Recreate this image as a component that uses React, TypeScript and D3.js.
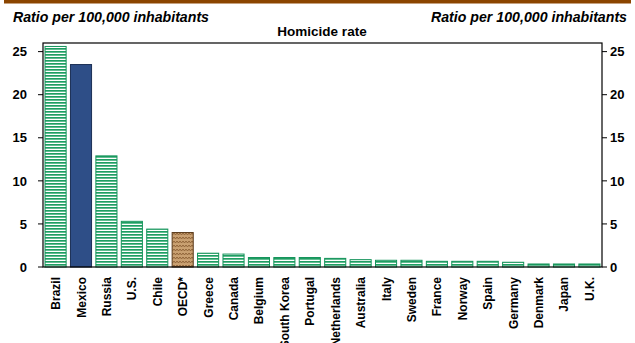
import React from "react";
import * as d3 from "d3";

const categories = ["Brazil","Mexico","Russia","U.S.","Chile","OECD*","Greece","Canada","Belgium","South Korea","Portugal","Netherlands","Australia","Italy","Sweden","France","Norway","Spain","Germany","Denmark","Japan","U.K."];
const values = [25.6,23.5,12.9,5.3,4.4,4.0,1.6,1.5,1.1,1.1,1.1,1.0,0.85,0.78,0.78,0.66,0.66,0.66,0.55,0.35,0.35,0.35];
const ticks = [0,5,10,15,20,25];
const title = "Homicide rate";
const unitLabel = "Ratio per 100,000 inhabitants";

const W = 635, H = 343;
const L = 43, R = 602, T = 43, B = 267;

export default function App() {
  const x = d3.scaleBand<string>().domain(categories).range([L, R]).paddingInner(0.17).paddingOuter(0.08);
  const y = d3.scaleLinear().domain([0, 26]).range([B, T]);
  const font = "'Liberation Sans', Arial, sans-serif";
  const fillFor = (c: string) => c === "Mexico" ? "#2E4E87" : c === "OECD*" ? "url(#brownPat)" : "url(#greenPat)";
  const strokeFor = (c: string) => c === "Mexico" ? "#1B2F55" : c === "OECD*" ? "#5A3A1A" : "#14935A";
  return (
    <svg width={W} height={H} style={{ position: "absolute", left: 0, top: 0 }} fontFamily={font}>
      <defs>
        <pattern id="greenPat" width={4} height={3} patternUnits="userSpaceOnUse">
          <rect width={4} height={3} fill="#ffffff" />
          <rect y={0} width={4} height={1.7} fill="#1E9E62" />
        </pattern>
        <pattern id="brownPat" width={6} height={4} patternUnits="userSpaceOnUse">
          <rect width={6} height={4} fill="#C9A071" />
          <path d="M0,1 L1.5,3 L3,1 L4.5,3 L6,1" fill="none" stroke="#8A5D33" strokeWidth={0.9} />
        </pattern>
      </defs>
      <rect x={0} y={0} width={W} height={H} fill="#fff" />
      <rect x={4} y={0} width={627} height={3.5} fill="#8B4500" />
      <text x={13} y={21.5} fontSize={14} fontWeight="bold" fontStyle="italic" textLength={196} lengthAdjust="spacingAndGlyphs">{unitLabel}</text>
      <text x={431} y={21.5} fontSize={14} fontWeight="bold" fontStyle="italic" textLength={196} lengthAdjust="spacingAndGlyphs">{unitLabel}</text>
      <text x={322} y={36} fontSize={13.5} fontWeight="bold" textAnchor="middle">{title}</text>
      {categories.map((c, i) => (
        <rect key={c} x={x(c)!} y={y(values[i])} width={x.bandwidth()} height={B - y(values[i])}
          fill={fillFor(c)} stroke={strokeFor(c)} strokeWidth={1} />
      ))}
      <rect x={L} y={T} width={R - L} height={B - T} fill="none" stroke="#000" strokeWidth={1.2} />
      {ticks.map(t => (
        <g key={t}>
          <line x1={L - 5} x2={L} y1={y(t)} y2={y(t)} stroke="#000" strokeWidth={1} />
          <line x1={R} x2={R + 5} y1={y(t)} y2={y(t)} stroke="#000" strokeWidth={1} />
          <text x={27} y={y(t)} dy="0.36em" fontSize={13} fontWeight="bold" textAnchor="end">{t}</text>
          <text x={610} y={y(t)} dy="0.36em" fontSize={13} fontWeight="bold" textAnchor="start">{t}</text>
        </g>
      ))}
      {categories.map(c => {
        const cx = x(c)! + x.bandwidth() / 2;
        return (
          <text key={c} transform={`translate(${cx + 4.5},277) rotate(-90)`} fontSize={12} fontWeight="bold" textAnchor="end">{c}</text>
        );
      })}
    </svg>
  );
}
